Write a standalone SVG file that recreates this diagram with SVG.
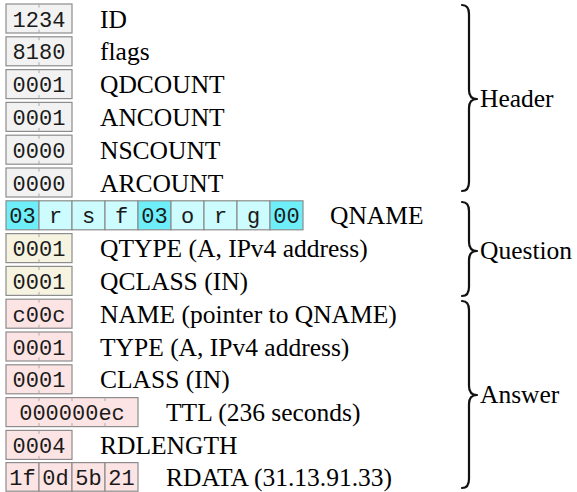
<svg xmlns="http://www.w3.org/2000/svg" width="577" height="492" viewBox="0 0 577 492">
<style>
.bx{stroke:#8c8c8c;stroke-width:1.2}
.hd{fill:#f2f2f2}
.qn{fill:#ccfcfd}
.qd{fill:#6eeef8}
.qs{fill:#f6f3e1}
.an{fill:#fde4e4}
.tk{stroke:#a8a8a8;stroke-width:1}
.m{font-family:'Liberation Mono','DejaVu Sans Mono',monospace;font-size:22px;fill:#1a1a1a;text-anchor:middle}
.l{font-family:'Liberation Serif','Times New Roman',Times,serif;font-size:25.5px;fill:#000}
.br{fill:none;stroke:#111;stroke-width:2.2;stroke-linecap:round;stroke-linejoin:round}
</style>
<defs>
<g id="tk2"><line class="tk" x1="33" y1="0" x2="33" y2="3.5"/><line class="tk" x1="33" y1="25.5" x2="33" y2="29"/></g>
</defs>
<g id="row-id" transform="translate(6,4)"><rect class="bx hd" width="66" height="29"/><use href="#tk2"/><text class="m" x="33" y="22.5">1234</text><text class="l" x="94" y="23.5">ID</text></g>
<g id="row-flags" transform="translate(6,36.8)"><rect class="bx hd" width="66" height="29"/><use href="#tk2"/><text class="m" x="33" y="22.5">8180</text><text class="l" x="94" y="23.5">flags</text></g>
<g id="row-qdcount" transform="translate(6,69.6)"><rect class="bx hd" width="66" height="29"/><use href="#tk2"/><text class="m" x="33" y="22.5">0001</text><text class="l" x="94" y="23.5">QDCOUNT</text></g>
<g id="row-ancount" transform="translate(6,102.4)"><rect class="bx hd" width="66" height="29"/><use href="#tk2"/><text class="m" x="33" y="22.5">0001</text><text class="l" x="94" y="23.5">ANCOUNT</text></g>
<g id="row-nscount" transform="translate(6,135.2)"><rect class="bx hd" width="66" height="29"/><use href="#tk2"/><text class="m" x="33" y="22.5">0000</text><text class="l" x="94" y="23.5">NSCOUNT</text></g>
<g id="row-arcount" transform="translate(6,168)"><rect class="bx hd" width="66" height="29"/><use href="#tk2"/><text class="m" x="33" y="22.5">0000</text><text class="l" x="94" y="23.5">ARCOUNT</text></g>
<g id="row-qname" transform="translate(6,200.8)">
<rect class="bx qd" x="0" width="33" height="29"/><text class="m" x="16.5" y="22.5">03</text>
<rect class="bx qn" x="33" width="33" height="29"/><text class="m" x="49.5" y="22.5">r</text>
<rect class="bx qn" x="66" width="33" height="29"/><text class="m" x="82.5" y="22.5">s</text>
<rect class="bx qn" x="99" width="33" height="29"/><text class="m" x="115.5" y="22.5">f</text>
<rect class="bx qd" x="132" width="33" height="29"/><text class="m" x="148.5" y="22.5">03</text>
<rect class="bx qn" x="165" width="33" height="29"/><text class="m" x="181.5" y="22.5">o</text>
<rect class="bx qn" x="198" width="33" height="29"/><text class="m" x="214.5" y="22.5">r</text>
<rect class="bx qn" x="231" width="33" height="29"/><text class="m" x="247.5" y="22.5">g</text>
<rect class="bx qd" x="264" width="33" height="29"/><text class="m" x="280.5" y="22.5">00</text>
<text class="l" x="324" y="23.5">QNAME</text></g>
<g id="row-qtype" transform="translate(6,233.6)"><rect class="bx qs" width="66" height="29"/><use href="#tk2"/><text class="m" x="33" y="22.5">0001</text><text class="l" x="94" y="23.5">QTYPE (A, IPv4 address)</text></g>
<g id="row-qclass" transform="translate(6,266.4)"><rect class="bx qs" width="66" height="29"/><use href="#tk2"/><text class="m" x="33" y="22.5">0001</text><text class="l" x="94" y="23.5">QCLASS (IN)</text></g>
<g id="row-name" transform="translate(6,299.2)"><rect class="bx an" width="66" height="29"/><use href="#tk2"/><text class="m" x="33" y="22.5">c00c</text><text class="l" x="94" y="23.5">NAME (pointer to QNAME)</text></g>
<g id="row-type" transform="translate(6,332)"><rect class="bx an" width="66" height="29"/><use href="#tk2"/><text class="m" x="33" y="22.5">0001</text><text class="l" x="94" y="23.5">TYPE (A, IPv4 address)</text></g>
<g id="row-class" transform="translate(6,364.8)"><rect class="bx an" width="66" height="29"/><use href="#tk2"/><text class="m" x="33" y="22.5">0001</text><text class="l" x="94" y="23.5">CLASS (IN)</text></g>
<g id="row-ttl" transform="translate(6,397.6)"><rect class="bx an" width="132" height="29"/><use href="#tk2"/><use href="#tk2" x="33"/><use href="#tk2" x="66"/><text class="m" x="66" y="22.5">000000ec</text><text class="l" x="160" y="23.5">TTL (236 seconds)</text></g>
<g id="row-rdlength" transform="translate(6,430.4)"><rect class="bx an" width="66" height="29"/><use href="#tk2"/><text class="m" x="33" y="22.5">0004</text><text class="l" x="94" y="23.5">RDLENGTH</text></g>
<g id="row-rdata" transform="translate(6,462.6)">
<rect class="bx an" x="0" width="33" height="28.6"/><text class="m" x="16.5" y="22">1f</text>
<rect class="bx an" x="33" width="33" height="28.6"/><text class="m" x="49.5" y="22">0d</text>
<rect class="bx an" x="66" width="33" height="28.6"/><text class="m" x="82.5" y="22">5b</text>
<rect class="bx an" x="99" width="33" height="28.6"/><text class="m" x="115.5" y="22">21</text>
<text class="l" x="160" y="23">RDATA (31.13.91.33)</text></g>
<g id="braces">
<path class="br" d="M462 5 Q469 5 469 14 L469 90 Q469 99 477 99 Q469 99 469 108 L469 182 Q469 191 462 191"/>
<path class="br" d="M462 202 Q469 202 469 211 L469 242 Q469 251 477 251 Q469 251 469 260 L469 287 Q469 296 462 296"/>
<path class="br" d="M462 301 Q469 301 469 310 L469 386 Q469 395 477 395 Q469 395 469 404 L469 479 Q469 488 462 488"/>
</g>
<g id="brace-labels">
<text class="l" x="480" y="107">Header</text>
<text class="l" x="480" y="259">Question</text>
<text class="l" x="480" y="403">Answer</text>
</g>
</svg>
